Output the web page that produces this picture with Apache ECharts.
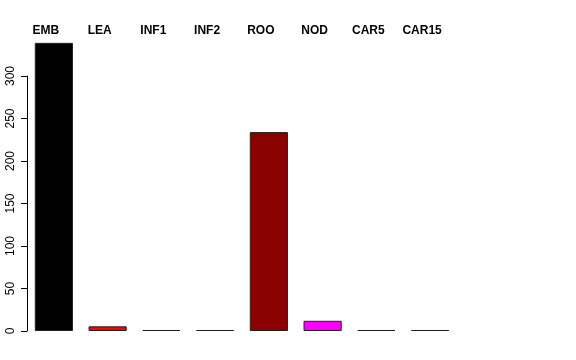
<!DOCTYPE html>
<html><head><meta charset="utf-8">
<script src="https://cdn.jsdelivr.net/npm/echarts@6/dist/echarts.min.js"></script>
<style>html,body{margin:0;padding:0;background:#fff}#c{width:576px;height:360px}</style>
</head><body><div id="c"></div>
<script>
var categories = ['EMB','LEA','INF1','INF2','ROO','NOD','CAR5','CAR15'];
var values = [339, 5.5, 1.2, 1.2, 234, 12, 1.2, 1.2];
var colors = ['#000000','#FF0000','#00CD00','#0000FF','#8B0000','#FF00FF','#FFA500','#00FFFF'];
var yTicks = [0, 50, 100, 150, 200, 250, 300];

var chart = echarts.init(document.getElementById('c'), null, {renderer:'canvas'});
var px = 0.85; // px per unit
var zeroY = 331;
var max1 = 350;
chart.setOption({
  animation:false,
  grid:[
    {left:27, right:119, top: zeroY - max1*px, bottom: 360 - zeroY},
    {left:27, right:119, top: zeroY - 300*px, bottom: 360 - zeroY}
  ],
  xAxis:[
    {type:'category', gridIndex:0, data:categories, position:'top',
     axisLine:{show:false}, axisTick:{show:false},
     axisLabel:{fontFamily:'Liberation Sans', fontWeight:'bold', fontSize:12, color:'#000', margin:-3, padding:[0,16,0,0], interval:0}},
    {type:'category', gridIndex:1, data:categories, show:false}
  ],
  yAxis:[
    {type:'value', gridIndex:0, min:0, max:max1, show:false},
    {type:'value', gridIndex:1, min:0, max:300, interval:50,
     axisLine:{show:true, lineStyle:{color:'#000', width:1}},
     axisTick:{show:true, length:6, lineStyle:{color:'#000'}},
     splitLine:{show:false},
     axisLabel:{fontFamily:'Liberation Sans', fontSize:12, color:'#000', rotate:90, margin:10,
       formatter:function(v){return yTicks.indexOf(v)>=0? String(v):'';}}}
  ],
  series:[{
    type:'bar', xAxisIndex:0, yAxisIndex:0,
    barCategoryGap:'29%',
    data: values.map(function(v,i){return {value:v, itemStyle:{color:colors[i]}};}),
    itemStyle:{borderColor:'#222', borderWidth:1}
  }]
});
</script></body></html>
